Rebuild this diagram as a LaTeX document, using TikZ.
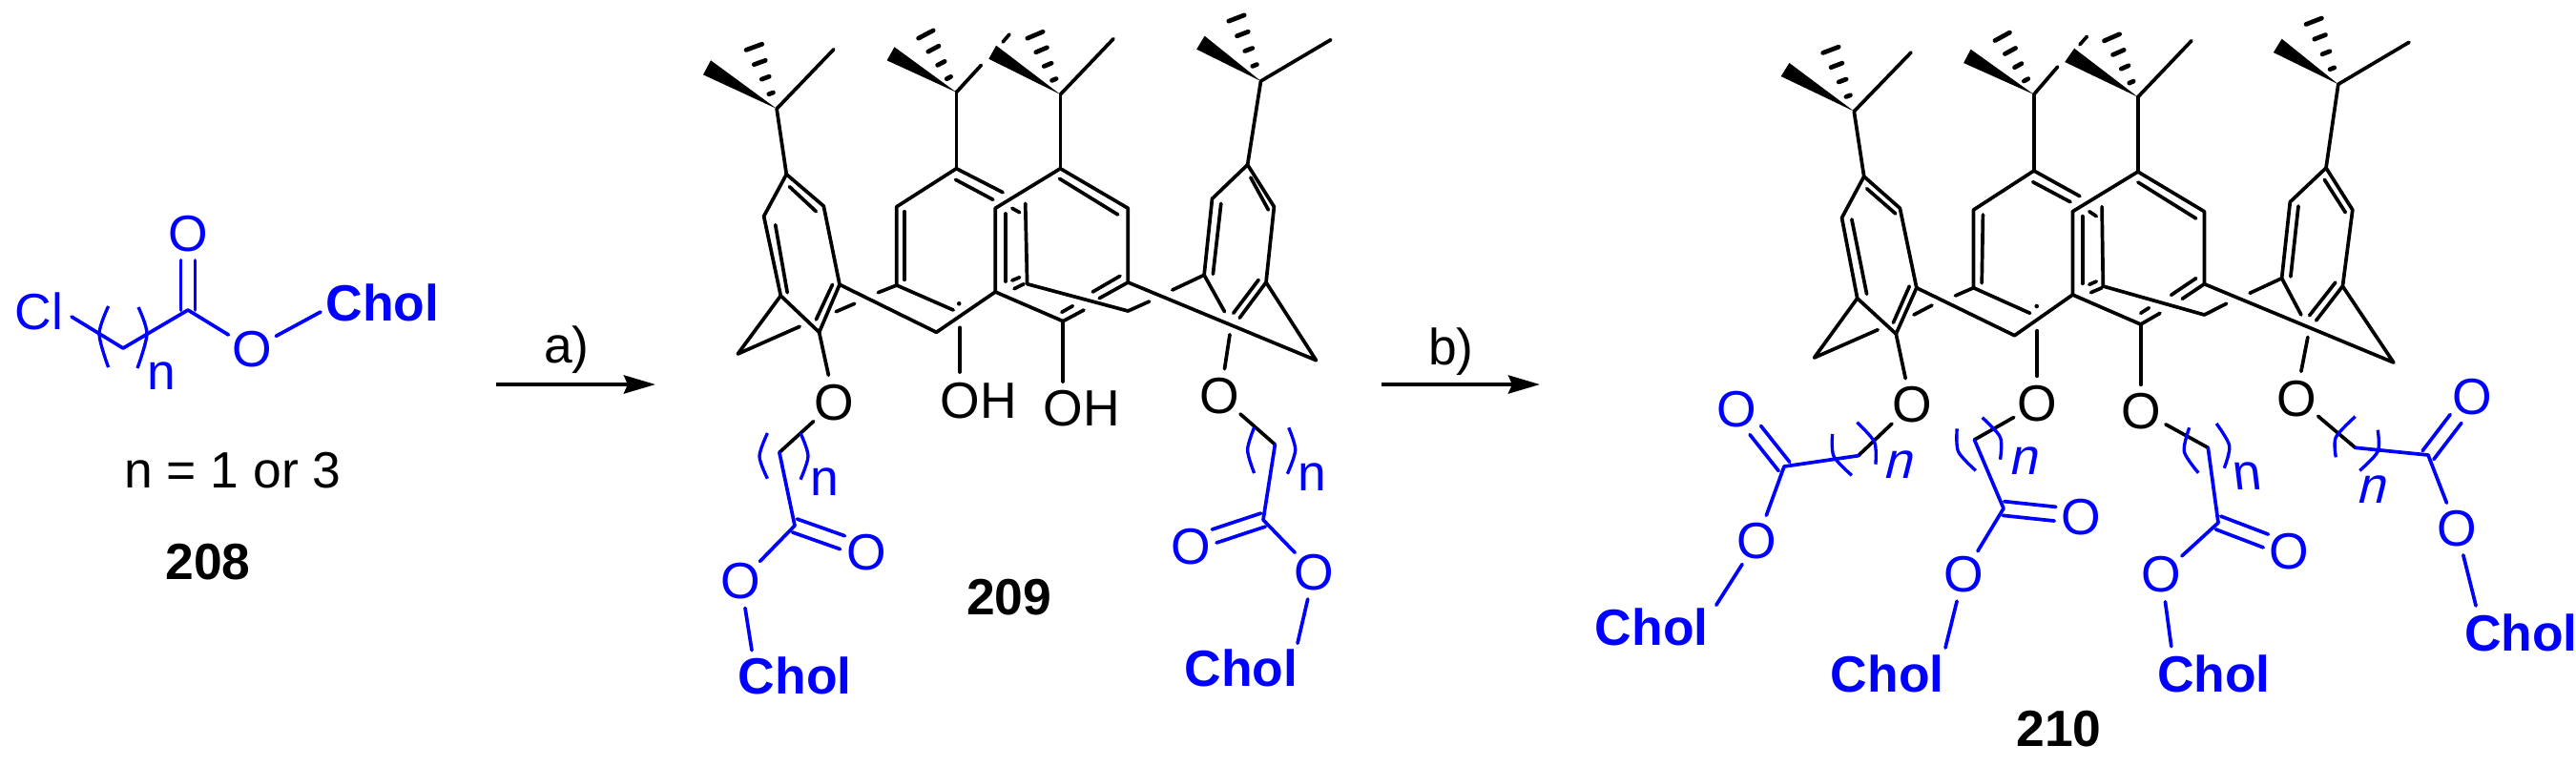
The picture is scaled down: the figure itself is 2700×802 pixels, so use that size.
\documentclass[tikz,border=0pt]{standalone}
\usepackage{fontspec}
\setmainfont{Liberation Sans}
\usetikzlibrary{arrows.meta, calc}
\definecolor{cholblue}{RGB}{0,0,255}
\newcommand{\Chemfont}{\fontsize{15.2}{18}\selectfont}
\tikzset{
    bond/.style={line width=1.05pt, line cap=round, line join=round},
    hashbond/.style={line width=1.35pt, line cap=round},
    armbond/.style={bond, draw=cholblue},
    paren/.style={line width=.95pt, draw=cholblue},
    oxy/.style={circle, inner sep=0pt, minimum size=.56cm, font=\Chemfont},
    chol/.style={inner sep=0pt, font=\Chemfont\bfseries, text=cholblue},
    unit/.style={inner sep=0pt, font=\Chemfont, text=cholblue},
    plain/.style={inner sep=0pt, font=\Chemfont},
    compound/.style={inner sep=0pt, font=\Chemfont\bfseries},
    reaction/.style={line width=1.2pt, -{Stealth[length=.33cm,width=.19cm,inset=.04cm]}},
}
% double bond with a free end
\newcommand{\DblBond}[2]{
    \draw[armbond] ($(#1)!2.1pt!90:(#2)$) -- ($(#2)!2.1pt!-90:(#1)$);
    \draw[armbond] ($(#1)!2.1pt!-90:(#2)$) -- ($(#2)!2.1pt!90:(#1)$);
}
\newcommand{\HashBond}[2]{
    \foreach \f/\w in {.25/.7,.5/1.2,.75/1.8,1/2.5}
      \draw[hashbond] ($(#1)!\f!(#2)!\w pt!90:(#1)$) -- ($(#1)!\f!(#2)!\w pt!-90:(#1)$);
}
% id, ring O, CH2, C, end of C=O, carbonyl O, ester O, end at Chol, Chol
\newcommand{\ChainArm}[9]{
    \node[oxy] (o#1) at (#2) {O};
    \node[oxy, text=cholblue] (k#1) at (#6) {O};
    \node[oxy, text=cholblue] (e#1) at (#7) {O};
    \node[chol] (h#1) at (#9) {Chol};
    \coordinate (ch#1) at (#3);
    \coordinate (c#1) at (#4);
    \coordinate (d#1) at (#5);
    \coordinate (x#1) at (#8);
    \draw[bond] (o#1) -- (ch#1);
    \draw[armbond] (ch#1) -- (c#1) -- (e#1);
    \draw[armbond] (e#1) -- (x#1);
    \DblBond{c#1}{d#1}
}
% id, left bracket, right bracket, n, options of n
\newcommand{\RepeatUnit}[9]{
    \draw[paren] plot[smooth] coordinates {(#2) (#3) (#4)};
    \draw[paren] plot[smooth] coordinates {(#5) (#6) (#7)};
    \node[unit, #9] (n#1) at (#8) {n};
}
% black part of the two calixarenes
\newcommand{\CalixBonds}{
    % tert-butyl groups
    \foreach \t/\w/\v/\h/\me in {tl/wla/wlb/hl/ml, tm/wma/wmb/hm/mma, tn/wna/wnb/hn/mn, tr/wra/wrb/hr/mr}{
      \fill (\t) -- (\w) -- (\v) -- cycle;
      \HashBond{\t}{\h}
      \draw[bond] (\t) -- (\me);
    }
    \draw[bond] (mmb) -- (mmc);
    \draw[bond] (tl) -- (l1);
    \draw[bond] (tm) -- (m1);
    \draw[bond] (tn) -- (n1);
    \draw[bond] (tr) -- (r1);
    % left ring
    \draw[bond] (l1) -- (l2) -- (l3) -- (l4) -- (l5) -- (l6) -- cycle;
    \draw[bond] (lia) -- (lib);
    \draw[bond] (lic) -- (lid);
    \draw[bond] (lie) -- (lif);
    \draw[bond] (l5) -- (lt) -- (lte);
    \draw[bond] (l4) -- (sl);
    \draw[bond] (l3) -- (b1) -- (n5);
    % second ring
    \draw[bond] (mtr) -- (m1) -- (m2) -- (m3) -- (mbe);
    \draw[bond] (mur) -- (mlr) -- (b2) -- (bsa);
    \draw[bond] (bsb) -- (r5);
    \draw[bond] (mia) -- (mib);
    \draw[bond] (mic) -- (mid);
    \draw[bond] (m3) -- (msa);
    \draw[bond] (msb) -- (msc);
    \fill (mdot) circle (2.3);
    \draw[bond] (sma) -- (smb);
    % third ring
    \draw[bond] (nbe) -- (n4) -- (n5) -- (n6) -- (n1) -- (n2) -- (n3) -- (nle);
    \draw[bond] (nia) -- (nib);
    \draw[bond] (nic) -- (nid);
    \draw[bond] (nie) -- (nif);
    \draw[bond] (nig) -- (nih);
    \draw[bond] (n4) -- (sn);
    \draw[bond] (kaa) -- (kab);
    \draw[bond] (kba) -- (kbb);
    \draw[bond] (kca) -- (kcb);
    % right ring
    \draw[bond] (n3) -- (rt) -- (r3) -- (r2) -- (r1) -- (r6) -- (r5) -- (rse);
    \draw[bond] (ria) -- (rib);
    \draw[bond] (r3) -- (ric);
    \draw[bond] (rid) -- (rie);
    \draw[bond] (rif) -- (rig);
    \draw[bond] (sra) -- (srb);
}
\begin{document}
\begin{tikzpicture}[x=.01cm, y=-.01cm]
    \useasboundingbox (0,0) rectangle (2700,802);

    % chloroester
    \node[unit] (cl) at (41,326) {Cl};
    \node[oxy, text=cholblue] (ko) at (197,245) {O};
    \node[oxy, text=cholblue] (eo) at (264,366) {O};
    \node[chol] (ch) at (401,317) {Chol};
    \coordinate (sa) at (75,332);
    \coordinate (sb) at (129,365);
    \coordinate (sc) at (197,325);
    \coordinate (sd) at (197,273);
    \coordinate (se) at (336,327);
    \draw[armbond] (sa) -- (sb) -- (sc) -- (eo);
    \draw[armbond] (eo) -- (se);
    \DblBond{sc}{sd}
    \RepeatUnit{s}{113.6,321}{104,350}{113.6,385}{145,322}{154,350}{144,386}{169,394}{}
    \node[plain] (cond) at (244,493) {n = 1 or 3};
    \node[compound] (c208) at (218,589) {208};

    % reaction arrows
    \coordinate (ra) at (519.5,403);
    \coordinate (rb) at (687,403);
    \draw[reaction] (ra) -- (rb);
    \node[plain] (stepa) at (594,367) {a)};
    \coordinate (rc) at (1448.3,403);
    \coordinate (rd) at (1614,403);
    \draw[reaction] (rc) -- (rd);
    \node[plain] (stepb) at (1521,368.7) {b)};

    % diester
    \begin{scope}[name prefix=a-]
      \foreach \n/\x/\y in {tl/814.1/114, wla/745/63.3, wlb/737/78.3, hl/790.4/49.3, ml/873.9/51.7,
        l1/824.3/182.7, l2/863.3/216, l3/880/298.3, l4/858.6/348.3, l5/818.3/310, l6/800.6/226.7,
        lia/827.5/195.7, lib/855.4/221.7, lic/825.2/306.7, lid/812.7/235.7, lie/872.5/298.3, lif/855.4/335,
        lt/773.3/371, lte/838.2/342.3, sl/868.4/393.3, b1/981.5/348.3,
        tm/1002.4/96.7, wma/937.5/49.3, wmb/929.6/63.3, hm/970.4/36, mma/1028.4/68.3, mmb/1051.1/44, mmc/1058/36,
        m1/1002.4/176.7, m2/939.8/216.7, m3/939.8/299, mtr/1051.1/201.7, mbe/999.2/325,
        mia/1001.5/188.3, mib/1040.9/209.3, mic/948/221.7, mid/948/293.3,
        msa/920.3/306.7, msb/895.7/318.3, msc/876.2/326.7, mdot/1005.2/318.3,
        mur/1074.7/213.3, mlr/1076.6/297.7, b2/1182.3/326, bsa/1204.6/316, bsb/1228.7/304,
        sma/1006.1/343.3, smb/1006.1/390,
        tn/1111.4/99, wna/1044.1/47.7, wnb/1036.3/61.7, hn/1085/36.7, mn/1167/40.7,
        n1/1111.4/176.7, n2/1182.3/218.3, n3/1182.3/296, n4/1114.2/336.7, n5/1043.2/306, n6/1043.2/218.3,
        nia/1110.5/187.3, nib/1171.7/225, nic/1053.9/224, nid/1053.9/295, nie/1174/289.3, nif/1145.2/306,
        nle/1152.2/312.7, nbe/1136/325, nig/1112.8/327.3, nih/1124.4/320.7, sn/1114.2/400,
        kaa/1060.8/218.3, kab/1068.7/222.7, kba/1060.8/294, kbb/1068.7/290.7, kca/1063/302.7, kcb/1073.2/297.7,
        tr/1321.5/85, wra/1262.6/37.7, wrb/1254.2/51.7, hr/1296/19, mr/1394.8/41.7,
        r1/1307.6/172.7, r2/1335.4/216.7, r3/1327/296, r5/1262.1/288.3, r6/1270.5/208.3, rt/1379.5/377.7, rse/1283.5/326.7,
        ria/1319.2/293.3, rib/1292.7/328.3, ric/1299.2/333.3, rid/1310.8/186, rie/1329.4/220, rif/1279.8/213.3, rig/1271.4/287.3,
        sra/1289/350.7, srb/1283.5/386.7}
        \coordinate (\n) at (\x,\y);
      \CalixBonds
    \end{scope}
    \ChainArm{a}{874,422.3}{816.9,474.3}{833,551}{883,568.7}{908.7,579}{776.5,609}{788,681.7}{833.3,708.7}
    \RepeatUnit{a}{804.4,454}{796,478.3}{804.4,501.7}{839,454}{847,478}{839,502.7}{864.7,505}{}
    \ChainArm{b}{1278.4,415}{1336.4,466}{1324,545}{1272.7,562}{1248.2,573.3}{1377.2,600}{1360,674.3}{1301,700.7}
    \RepeatUnit{b}{1314.6,448}{1307.6,471.7}{1314.6,496}{1350.7,448.3}{1357.7,471.7}{1349.4,496.7}{1375.8,500}{}
    \node[plain] (oha) at (1025.6,420) {OH};
    \node[plain] (ohb) at (1133.7,428.3) {OH};
    \node[compound] (c209) at (1057.6,626) {209};

    % tetraester
    \begin{scope}[name prefix=b-]
      \foreach \n/\x/\y in {tl/1943.3/116.7, wla/1875.4/66, wlb/1866.7/80, hl/1918.9/52.3, ml/2003/55,
        l1/1953.7/185, l2/1991.4/218.3, l3/2008.8/301.7, l4/1987.3/350, l5/1946.7/312.7, l6/1930.5/228.3,
        lia/1956.6/197.7, lib/1986.8/224, lic/1956.6/308.3, lid/1940.9/230, lie/2001.3/300, lif/1984.4/338.3,
        lt/1901.5/375, lte/1968.2/345.7, sl/1997.2/396.7, b1/2111.5/351.7,
        tm/2131.8/99, wma/2065.6/51.7, wmb/2058.1/66, hm/2098.7/38.3, mma/2156.7/70, mmb/2179.9/46.7, mmc/2187.4/38.3,
        m1/2131.8/179, m2/2068.5/220, m3/2068.5/301.7, mtr/2179.9/205.7, mbe/2127.7/328.3,
        mia/2130.6/190.7, mib/2170/211.7, mic/2078.4/225, mid/2077.2/296.7,
        msa/2049.4/310, msb/2025/320, msc/2005.9/330, mdot/2134.7/321,
        mur/2203.1/216.7, mlr/2204.3/300, b2/2310.4/330, bsa/2333.6/318.3, bsb/2358/307.3,
        sma/2135.2/346.7, smb/2135.2/394.3,
        tn/2240.8/101.7, wna/2174.1/50.7, wnb/2164.2/65, hn/2213.5/39.3, mn/2297/42.7,
        n1/2240.8/180, n2/2310.4/221.7, n3/2310.4/297.7, n4/2243.7/340, n5/2172.4/309, n6/2172.4/221.7,
        nia/2240.8/191, nib/2301.7/229, nic/2182.8/226.7, nid/2182.8/297.3, nie/2301.7/291.7, nif/2275.6/309.3,
        nle/2287.2/313.3, nbe/2264/328.3, nig/2243.7/328.3, nih/2252.4/322.7, sn/2243.7/403.3,
        kaa/2189.8/221.7, kab/2197.3/226.7, kba/2189.8/298.3, kbb/2197.3/295, kca/2191.5/306.7, kcb/2203.1/301.7,
        tr/2450.8/88.3, wra/2391.6/40.7, wrb/2382.9/55, hr/2425.2/22.3, mr/2525/44.3,
        r1/2438/176, r2/2465.8/220, r3/2455.4/300, r5/2391.6/291.7, r6/2400.3/211.7, rt/2508.8/380, rse/2411.9/330,
        ria/2447.9/296, rib/2420.6/330.7, ric/2427.6/336, rid/2436.3/188.3, rie/2458.3/222.7, rif/2409/216, rig/2400.9/290,
        sra/2418.9/353.3, srb/2411.9/389.3}
        \coordinate (\n) at (\x,\y);
      \CalixBonds
    \end{scope}
    \ChainArm{c}{2003.8,424.3}{1947.7,477.7}{1870,489}{1839.8,451}{1820.5,429.3}{1841.5,567.3}{1798.8,634.3}{1731.2,657}
    \RepeatUnit{c}{1920.6,455}{1922,478.3}{1940.9,498.3}{1946.3,442.7}{1964.6,463.3}{1965.9,486.7}{1991.6,487.3}{xslant=.25}
    \ChainArm{d}{2135.7,423.3}{2069.4,461}{2100,533}{2154,538.7}{2181,542.3}{2058,602.3}{2039,679}{1978.1,706}
    \RepeatUnit{d}{2051.2,449.3}{2052.5,473.3}{2070.8,493.3}{2077.6,437.7}{2096.5,458.3}{2096.5,481.7}{2123.6,483.3}{xslant=.2}
    \ChainArm{e}{2244.7,431}{2314.3,469.3}{2325,548}{2374.8,567}{2399.6,578.3}{2265.6,602.3}{2275.8,677.7}{2320.4,706}
    \RepeatUnit{e}{2294.7,448.3}{2289.3,473.3}{2304.2,495.7}{2323.1,444}{2336.7,467.3}{2331.3,490.7}{2355.6,499.3}{xslant=-.12}
    \ChainArm{f}{2407.7,417.7}{2468.6,469.3}{2545,477}{2574,439}{2591.7,415.7}{2574.8,554}{2595.1,635}{2642.4,663}
    \RepeatUnit{f}{2468.6,436.7}{2448.3,458.3}{2448.3,479.3}{2492.2,450.7}{2492.2,473.3}{2473.3,493.3}{2487.5,513.3}{xslant=.25}
    \node[compound] (c210) at (2158,763.7) {210};
\end{tikzpicture}
\end{document}
